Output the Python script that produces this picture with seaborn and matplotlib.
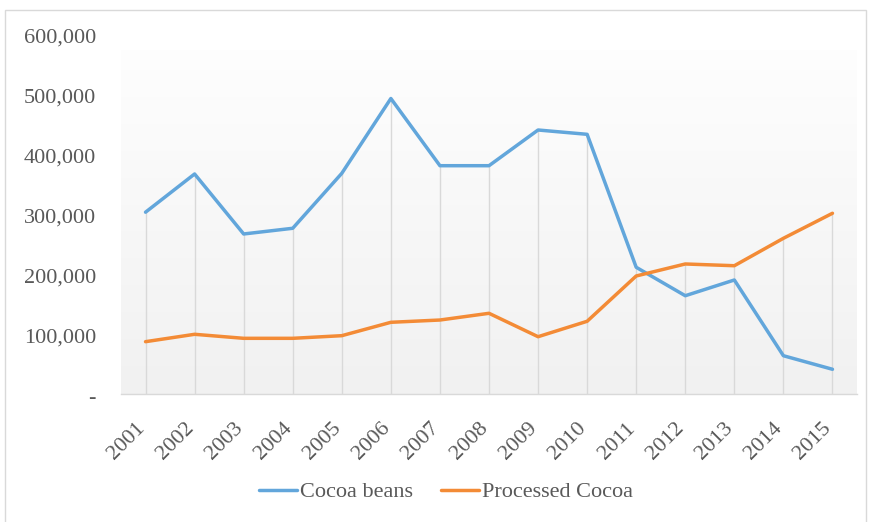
import numpy as np
import pandas as pd
import matplotlib
matplotlib.use("Agg")
import matplotlib.pyplot as plt
import matplotlib.transforms as mtransforms
import seaborn as sns
from matplotlib.patches import Rectangle
from matplotlib.ticker import FuncFormatter

years = ["2001", "2002", "2003", "2004", "2005", "2006", "2007", "2008",
         "2009", "2010", "2011", "2012", "2013", "2014", "2015"]
cocoa_beans = [303000, 366700, 266700, 276200, 367800, 492500, 380500, 380500,
               440000, 432800, 211200, 163800, 190000, 63800, 41200]
processed_cocoa = [87200, 99500, 92800, 92800, 97200, 119500, 123300, 134500,
                   95500, 121200, 196700, 216700, 213800, 259500, 301200]
series_names = ["Cocoa beans", "Processed Cocoa"]
y_ticks = [0, 100000, 200000, 300000, 400000, 500000, 600000]

sns.set_theme(style="white")
plt.rcParams["font.family"] = ["Liberation Serif", "DejaVu Serif"]

df = pd.DataFrame({
    "Year": years * 2,
    "Value": cocoa_beans + processed_cocoa,
    "Series": [series_names[0]] * len(years) + [series_names[1]] * len(years),
})
df["x"] = list(range(len(years))) * 2

fig = plt.figure(figsize=(8.7, 5.22), dpi=100)
fig.patch.set_facecolor("white")
ax = fig.add_axes([121 / 870, 1 - 394 / 522, (857 - 121) / 870, 360 / 522])
ax.set_facecolor("white")

# gradient plot-area fill
grad = np.linspace(0.995, 0.945, 256).reshape(-1, 1)
ax.imshow(np.dstack([grad, grad, grad]), extent=(-0.5, len(years) - 0.5, 0, 573000),
          aspect="auto", zorder=0, interpolation="bicubic")

# drop lines
xs = np.arange(len(years))
tops = np.maximum(np.array(cocoa_beans), np.array(processed_cocoa))
ax.vlines(xs, 0, tops, color="#d9d9d9", lw=1.0, zorder=1)

palette = {series_names[0]: "#62A6DB", series_names[1]: "#F38B36"}
sns.lineplot(data=df, x="x", y="Value", hue="Series", palette=palette,
             linewidth=2.5, ax=ax, legend=False, zorder=3, sort=False)

ax.set_xlim(-0.5, len(years) - 0.5)
ax.set_ylim(0, 600000)
ax.set_xticks(xs)
ax.set_xticklabels(years, rotation=45, ha="right", va="top")
ax.set_yticks(y_ticks)
ax.yaxis.set_major_formatter(FuncFormatter(lambda v, p: "-" if v == 0 else f"{int(v):,}"))
ax.tick_params(axis="both", length=0, labelsize=16, colors="#595959")
ax.tick_params(axis="y", pad=18)
ax.tick_params(axis="x", pad=18)
ax.set_xlabel("")
ax.set_ylabel("")
for s in ["top", "right", "left"]:
    ax.spines[s].set_visible(False)
ax.spines["bottom"].set_color("#d9d9d9")
ax.spines["bottom"].set_linewidth(1.0)
ax.grid(False)

yoff = mtransforms.ScaledTranslation(0, -2 / 100, fig.dpi_scale_trans)
for lab in ax.get_yticklabels():
    lab.set_transform(lab.get_transform() + yoff)
xoff = mtransforms.ScaledTranslation(3 / 100, 0, fig.dpi_scale_trans)
for lab in ax.get_xticklabels():
    lab.set_transform(lab.get_transform() + xoff)

handles = [plt.Line2D([], [], color=palette[n], lw=2.5) for n in series_names]
fig.legend(handles, series_names, loc="center", bbox_to_anchor=(446 / 870, 1 - 492 / 522),
           ncol=2, frameon=False, fontsize=16, handlelength=1.7, handletextpad=0.15,
           columnspacing=1.25, labelcolor="#595959")

fig.add_artist(Rectangle((5 / 870, -0.01), 861 / 870, 1 - 10 / 522 + 0.01,
                         transform=fig.transFigure, fill=False, edgecolor="#d9d9d9", lw=1.0))

fig.savefig("out.png", dpi=100)
